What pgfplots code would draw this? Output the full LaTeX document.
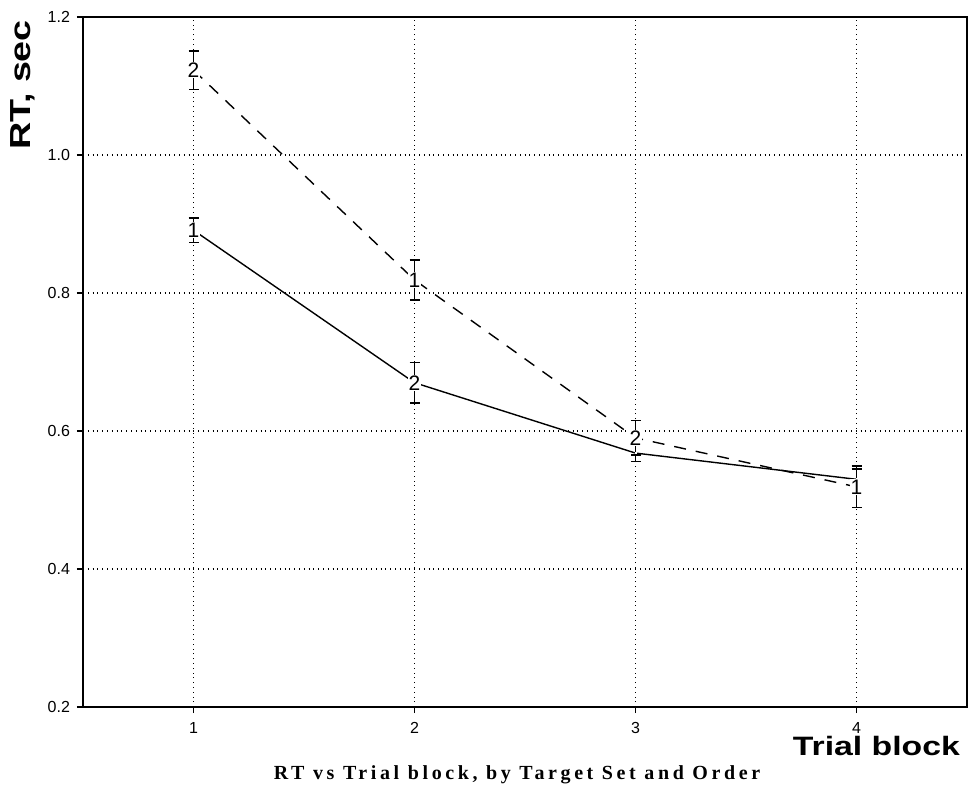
\documentclass[border=0pt]{standalone}
\usepackage{fontspec}
\setmainfont{Liberation Sans}
\newfontfamily\titlefont[LetterSpace=18]{Liberation Serif}
\usepackage{pgfplots}
\pgfplotsset{compat=1.18}

\begin{document}
\begin{tikzpicture}
\begin{axis}[
  at={(0,0)}, anchor=south west,
  scale only axis, width=442pt, height=345pt,
  xmin=0.5, xmax=4.5, ymin=0.2, ymax=1.2,
  xtick={1,2,3,4}, ytick={0.2,0.4,0.6,0.8,1.0,1.2},
  yticklabel style={/pgf/number format/.cd, fixed, fixed zerofill, precision=1},
  /pgf/number format/assume math mode=true,
  tick label style={font=\fontsize{8}{9}\selectfont},
  xticklabel shift=1pt,
  grid=major, grid style={black, dotted, line width=0.6pt},
  axis line style={line width=0.9pt},
  tick align=outside, xtick pos=bottom, ytick pos=left,
  major tick length=3pt, tick style={black, line width=0.7pt},
  point meta=explicit symbolic,
  nodes near coords,
  every node near coord/.append style={anchor=center, fill=white, inner sep=0.3pt,
    font=\fontsize{10.5}{12}\selectfont, text=black},
]
% order 1 (solid)
\addplot[black, line width=0.7pt,
  error bars/.cd, y dir=both, y explicit,
  error bar style={line width=0.7pt},
  error mark options={rotate=90, mark size=2.5pt, line width=0.8pt}]
  table[x=x, y=y, y error=e, meta=lab] {
x y e lab
1 0.891 0.018 1
2 0.670 0.029 2
3 0.568 0.012 {}
4 0.530 0.015 {}
};
% order 2 (dashed)
\addplot[black, line width=0.7pt, dash pattern=on 6pt off 5pt,
  error bars/.cd, y dir=both, y explicit,
  error bar style={line width=0.7pt, solid},
  error mark options={rotate=90, mark size=2.5pt, line width=0.8pt, solid}]
  table[x=x, y=y, y error=e, meta=lab] {
x y e lab
1 1.123 0.028 2
2 0.819 0.029 1
3 0.590 0.025 2
4 0.519 0.030 1
};
\end{axis}
\node[rotate=90, font=\bfseries\fontsize{14.5}{16}\selectfont] at (-30pt,311pt)
  {\scalebox{1.3}[1]{RT, sec}};
\node[anchor=base east, font=\bfseries\fontsize{13.3}{15}\selectfont] at (442pt,-24pt)
  {\scalebox{1.27}[1]{Trial block}};
\node[anchor=base, font=\titlefont\bfseries\fontsize{10}{12}\selectfont] at (217pt,-36pt)
  {RT vs Trial block, by Target Set and Order};
\pgfresetboundingbox
\path[use as bounding box] (-41.5pt,-41pt) rectangle (443pt,353.5pt);
\end{tikzpicture}
\end{document}
